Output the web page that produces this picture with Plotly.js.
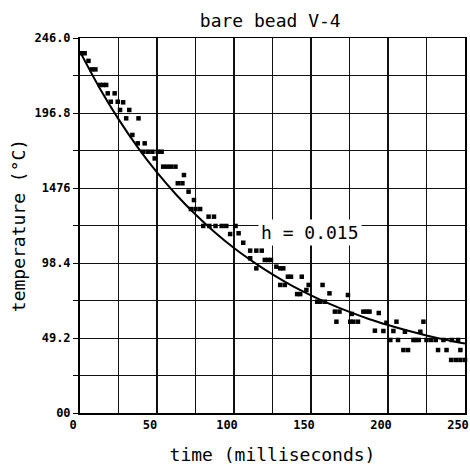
<!DOCTYPE html>
<html>
<head>
<meta charset="utf-8">
<script src="https://cdn.plot.ly/plotly-3.0.1.min.js"></script>
<style>html,body{margin:0;padding:0;background:#fff;}#chart{width:470px;height:466px;}</style>
</head>
<body>
<div id="chart"></div>
<script>
// measured data points (time ms, temperature °C)
var timeMs = [1,3,5.5,7.5,10,13,15,17,18,20,22.5,24.5,26,28,30,32,34,37.5,38,41,42,44,47,48.5,50.5,53,54,56.5,59,62,63.5,66.5,67.5,70.5,72,74,75,78,80,83.5,84,87,88,92,95,97.5,101,103,106,110.5,110.5,114.5,114.5,118,120,122,124,127.5,130,130,132,133,135,137,141,143,144,147,148.5,154,156,157.5,159,162,165.5,166.5,168.5,174,175.5,176.5,177.5,180.5,184,186,188,191.5,194,197,199,201.5,203.5,205.5,206.5,210,211,213,216.5,218,220,221,223,225,228,231,232.5,236,238,241,241.5,244,245.5,247,247,250];
var tempC = [236,236,231,225.4,225.4,215.2,215.2,215.2,209.7,204.2,209.7,204.2,198.8,203.8,193.3,198.8,182.4,176.9,193.3,171.4,176.9,171.4,171.4,167,171.4,171.4,161.6,161.6,161.6,161.6,150.7,150.7,156.1,145.2,133.8,139.7,133.8,133.8,122.7,128.8,122.7,128.8,122.7,122.7,122.7,117.4,122.7,117.9,111.7,106.5,101.5,106.5,94.9,106.5,100.4,100.4,100.4,96,94.9,84,94.9,84,89.4,89.4,78,78,89.4,80.7,84,73,73,84,73,78.5,66.5,59.9,66.5,77.4,59.9,65,59.9,59.9,66.5,66.5,66.5,54,65.6,53.8,59.2,47.9,53.8,59.9,47.9,41.3,53.3,41.3,47.9,47.9,47.9,53.3,59.9,47.9,47.9,47.9,41.3,47.9,41.3,34.8,47.9,34.8,47.9,41.3,34.8,34.8];

// fitted curve
var curveT = [0,12.5,25,37.5,50,62.5,75,87.5,100,112.5,125,137.5,150,162.5,175,187.5,200,212.5,225,237.5,250];
var curveY = [237,213.6,192.8,174.3,157.8,143.2,130.2,118.6,108.2,99.1,90.9,83.6,77.2,71.4,66.3,61.7,57.7,54.1,50.9,48,45.5];

// ticks
var xTickVals = [0,25,50,75,100,125,150,175,200,225,250];
var xTickText = ['0','','50','','100','','150','','200','','250'];
var yTickVals = [0,24.6,49.2,73.8,98.4,123,147.6,172.2,196.8,221.4,246];
var yTickText = ['00','','49.2','','98.4','','1476','','196.8','','246.0'];

var traces = [
  {x: timeMs, y: tempC, mode: 'markers', type: 'scatter',
   marker: {symbol: 'square', size: 4.5, color: '#000'}, cliponaxis: false, hoverinfo: 'x+y'},
  {x: curveT, y: curveY, mode: 'lines', type: 'scatter',
   line: {color: '#000', width: 2, shape: 'spline', smoothing: 1}}
];

var tickFont = {family: 'DejaVu Sans Mono', size: 12, color: '#000', weight: 'bold'};
var textFont = {family: 'DejaVu Sans Mono', size: 18, color: '#000'};
var layout = {
  width: 470, height: 466,
  margin: {l: 80, r: 5, t: 38, b: 53},
  paper_bgcolor: '#fff', plot_bgcolor: '#fff',
  showlegend: false,
  title: {text: 'bare bead V-4', x: 0.575, xanchor: 'center', y: 0.955, yanchor: 'middle', font: textFont},
  xaxis: {
    range: [0, 250], tickmode: 'array', tickvals: xTickVals, ticktext: xTickText,
    showgrid: true, gridcolor: '#111', gridwidth: 1.5,
    showline: true, linecolor: '#000', linewidth: 1.5, mirror: true,
    ticks: '', zeroline: false, tickfont: tickFont,
    ticklabelshift: -7, ticklabeloverflow: 'allow',
    title: {text: 'time (milliseconds)', standoff: 17, font: textFont}
  },
  yaxis: {
    range: [0, 246], tickmode: 'array', tickvals: yTickVals, ticktext: yTickText,
    showgrid: true, gridcolor: '#111', gridwidth: 1,
    showline: true, linecolor: '#000', linewidth: 2, mirror: true,
    ticks: 'outside', ticklen: 5, tickcolor: '#000', zeroline: false, tickfont: tickFont,
    title: {text: 'temperature (°C)', standoff: 4, font: textFont}
  },
  annotations: [
    {x: 149.5, y: 118.7, xref: 'x', yref: 'y', text: 'h = 0.015', showarrow: false,
     bgcolor: '#fff', borderpad: 2, font: textFont}
  ]
};

Plotly.newPlot('chart', traces, layout, {displayModeBar: false, staticPlot: true});
</script>
</body>
</html>
